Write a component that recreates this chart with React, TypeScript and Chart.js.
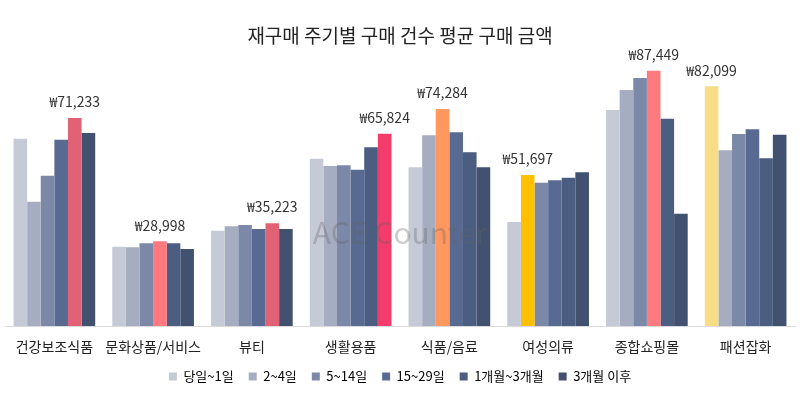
import React, { useEffect, useRef } from "react";
import { Chart, registerables } from "chart.js";

Chart.register(...registerables);

const categories = ["건강보조식품", "문화상품/서비스", "뷰티", "생활용품", "식품/음료", "여성의류", "종합쇼핑몰", "패션잡화"];
const seriesNames = ["당일~1일", "2~4일", "5~14일", "15~29일", "1개월~3개월", "3개월 이후"];

const sameDay = [64150, 27160, 32650, 57310, 54340, 35620, 73980, 82099];
const days2to4 = [42580, 26950, 34140, 54800, 65300, 51697, 80830, 60160];
const days5to14 = [51480, 28320, 34590, 55030, 74284, 49090, 84940, 65760];
const days15to29 = [63810, 28998, 33220, 53540, 66330, 49890, 87449, 67360];
const month1to3 = [71233, 28320, 35223, 61190, 59480, 50810, 71010, 57420];
const after3months = [66100, 26370, 33220, 65824, 54340, 52630, 38470, 65530];

// which series is the top one in each category, and its colour
const highlightIndex = [4, 3, 4, 5, 2, 1, 3, 0];
const highlightColors = ["#E16274", "#FF797E", "#E16274", "#F33C6B", "#FF985E", "#FFC000", "#FF7A7F", "#F6DD86"];

const seriesColors = ["#C6CAD6", "#A6ADC1", "#7B88A8", "#586A92", "#4B5D81", "#41516F"];

const FONT = '"Noto Sans CJK KR", "Noto Sans", sans-serif';

const valueLabels = {
    id: "valueLabels",
    afterDatasetsDraw(chart: Chart) {
        const ctx = chart.ctx;
        ctx.save();
        ctx.font = `14px ${FONT}`;
        ctx.fillStyle = "#333333";
        ctx.textAlign = "center";
        ctx.textBaseline = "middle";
        categories.forEach((_, i) => {
            const ds = highlightIndex[i];
            const el: any = chart.getDatasetMeta(ds).data[i];
            const v = chart.data.datasets[ds].data[i] as number;
            ctx.fillText("₩" + v.toLocaleString("en-US"), el.x, el.y - 16);
        });
        ctx.restore();
    },
};

const watermark = {
    id: "watermark",
    afterDatasetsDraw(chart: Chart) {
        const ctx = chart.ctx;
        ctx.save();
        ctx.font = `30px ${FONT}`;
        ctx.fillStyle = "rgba(100, 100, 100, 0.32)";
        ctx.textAlign = "center";
        ctx.textBaseline = "middle";
        ctx.fillText("ACE Counter", 400, 233);
        ctx.restore();
    },
};

const ReorderChart: React.FC = () => {
    const canvasRef = useRef<HTMLCanvasElement>(null);

    useEffect(() => {
        document.body.style.margin = "0";
        if (!canvasRef.current) return;
        const ctx = canvasRef.current.getContext("2d");
        if (!ctx) return;

        const values = [sameDay, days2to4, days5to14, days15to29, month1to3, after3months];

        const chart = new Chart(ctx, {
            type: "bar",
            data: {
                labels: categories,
                datasets: values.map((data, s) => ({
                    label: seriesNames[s],
                    data: data,
                    backgroundColor: data.map((_, i) => (highlightIndex[i] === s ? highlightColors[i] : seriesColors[s])),
                    borderWidth: 0,
                    categoryPercentage: 0.827,
                    barPercentage: 1,
                })),
            },
            options: {
                animation: false,
                responsive: true,
                maintainAspectRatio: false,
                layout: {
                    padding: { left: 5, right: 5, top: 0, bottom: 8 },
                },
                plugins: {
                    title: {
                        display: true,
                        text: "재구매 주기별 구매 건수 평균 구매 금액",
                        color: "#222222",
                        font: { family: FONT, size: 19, weight: "normal" },
                        padding: { top: 24, bottom: 18.6 },
                    },
                    legend: {
                        position: "bottom",
                        labels: {
                            color: "#333333",
                            boxWidth: 8,
                            boxHeight: 8,
                            padding: 15,
                            font: { family: FONT, size: 13 },
                            generateLabels: () =>
                                seriesNames.map((name, s) => ({
                                    text: name,
                                    fillStyle: seriesColors[s],
                                    strokeStyle: seriesColors[s],
                                    lineWidth: 0,
                                    datasetIndex: s,
                                    hidden: false,
                                })),
                        },
                    },
                    tooltip: { enabled: false },
                },
                scales: {
                    x: {
                        grid: { display: false, drawTicks: false },
                        border: { display: true, color: "#D9D9D9", width: 1 },
                        ticks: {
                            color: "#222222",
                            padding: 12,
                            autoSkip: false,
                            minRotation: 0,
                            maxRotation: 0,
                            font: { family: FONT, size: 14 },
                        },
                        afterFit: (axis: any) => {
                            axis.height = 29;
                        },
                    },
                    y: {
                        display: false,
                        min: 0,
                        max: 89250,
                    },
                },
            },
            plugins: [valueLabels, watermark],
        });

        return () => {
            chart.destroy();
        };
    }, []);

    return (
        <div style={{ position: "relative", width: 800, height: 401 }}>
            <canvas ref={canvasRef}></canvas>
        </div>
    );
};

export default function App() {
    return <ReorderChart />;
}
